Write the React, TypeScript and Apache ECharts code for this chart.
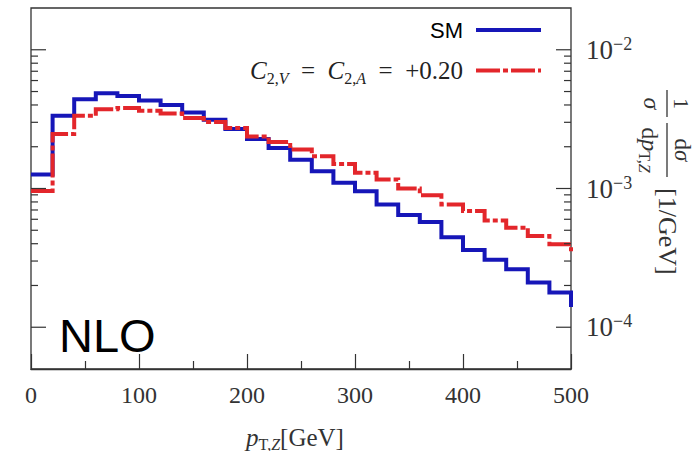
import React, { useEffect, useRef } from "react";
import * as echarts from "echarts";

// Lower edges of the 20 GeV p_T,Z bins (the 500 entry closes the last bin)
const binEdges = [
  0, 20, 40, 60, 80, 100, 120, 140, 160, 180, 200, 220, 240, 260, 280, 300,
  320, 340, 360, 380, 400, 420, 440, 460, 480, 500,
];

// Normalised distribution, Standard Model
const smValues = [
  1.26e-3, 3.34e-3, 4.4e-3, 4.86e-3, 4.65e-3, 4.3e-3, 4.0e-3, 3.53e-3, 3.13e-3,
  2.68e-3, 2.27e-3, 1.96e-3, 1.61e-3, 1.33e-3, 1.1e-3, 9.56e-4, 7.68e-4,
  6.43e-4, 5.73e-4, 4.45e-4, 3.61e-4, 3.06e-4, 2.62e-4, 2.1e-4, 1.78e-4,
  1.4e-4,
];

// Normalised distribution, C_{2,V} = C_{2,A} = +0.20
const c2Values = [
  9.6e-4, 2.47e-3, 3.34e-3, 3.73e-3, 3.8e-3, 3.63e-3, 3.47e-3, 3.22e-3,
  3.01e-3, 2.73e-3, 2.37e-3, 2.16e-3, 1.91e-3, 1.71e-3, 1.5e-3, 1.3e-3,
  1.16e-3, 1.0e-3, 8.95e-4, 7.68e-4, 6.87e-4, 5.89e-4, 5.22e-4, 4.55e-4,
  3.96e-4, 3.53e-4,
];

const seriesNames = ["SM", "C2"];
const xTicks = [0, 100, 200, 300, 400, 500];
const yMajorTicks = [1e-4, 1e-3, 1e-2];
const yMinorTicks = [
  2e-4, 3e-4, 4e-4, 5e-4, 6e-4, 7e-4, 8e-4, 9e-4,
  2e-3, 3e-3, 4e-3, 5e-3, 6e-3, 7e-3, 8e-3, 9e-3,
];

const SERIF = '"Liberation Serif", "DejaVu Serif", serif';
const SANS = '"Liberation Sans", Arial, sans-serif';
const INK = "#333";
const BLUE = "#1616b8";
const RED = "#e3262b";
const NONE = "rgba(0,0,0,0)";

export default function App() {
  const ref = useRef<HTMLDivElement>(null);

  useEffect(() => {
    if (!ref.current) return;
    const chart = echarts.init(ref.current, undefined, { renderer: "svg" });

    const toPoints = (vals: number[]) => binEdges.map((x, i) => [x, vals[i]]);
    const tickData = [
      ...yMajorTicks.map((v) => [0, v, 1]),
      ...yMinorTicks.map((v) => [0, v, 0]),
    ];

    const mathRich = {
      c: { fontFamily: SERIF, fontStyle: "italic", fontSize: 25, color: "#222", lineHeight: 32 },
      s: { fontFamily: SERIF, fontSize: 16, color: "#222", verticalAlign: "bottom", lineHeight: 16 },
      si: { fontFamily: SERIF, fontStyle: "italic", fontSize: 16, color: "#222", verticalAlign: "bottom", lineHeight: 16 },
      r: { fontFamily: SERIF, fontSize: 25, color: "#222", lineHeight: 32 },
      sm: { fontFamily: SANS, fontSize: 22, color: "#000", lineHeight: 26 },
    };

    chart.setOption({
      animation: false,
      grid: {
        left: 31,
        right: 124,
        top: 8,
        bottom: 82,
        show: true,
        borderColor: INK,
        borderWidth: 1.3,
        containLabel: false,
        outerBoundsMode: "none",
      },
      legend: {
        data: seriesNames,
        orient: "vertical",
        align: "right",
        right: 152,
        top: 19,
        padding: 0,
        itemGap: 17,
        itemWidth: 65,
        itemHeight: 14,
        selectedMode: false,
        itemStyle: { color: NONE, borderColor: NONE, borderWidth: 0 },
        lineStyle: { width: 4 },
        textStyle: { rich: mathRich, padding: [0, 8, 0, 0] },
        formatter: (name: string) =>
          name === "SM"
            ? "{sm|SM}"
            : "{c|C}{s|2,}{si|V}{r|\u2002=\u2002}{c|C}{s|2,}{si|A}{r|\u2002=\u2002+0.20}",
      },
      xAxis: {
        type: "value",
        min: xTicks[0],
        max: xTicks[xTicks.length - 1],
        interval: 100,
        axisLine: { show: true, lineStyle: { color: INK, width: 1.3 } },
        axisTick: { show: true, inside: true, length: 15, lineStyle: { color: INK, width: 1.2 } },
        minorTick: { show: true, splitNumber: 2, length: 8, lineStyle: { color: INK, width: 1.2 } },
        splitLine: { show: false },
        axisLabel: { fontFamily: SERIF, fontSize: 24, color: INK, margin: 14 },
        name: "{p|p}{sub|T,}{subi|Z}{r|[GeV]}",
        nameLocation: "middle",
        nameGap: 53,
        nameTextStyle: {
          padding: [0, 12, 0, 0],
          rich: {
            p: { fontFamily: SERIF, fontStyle: "italic", fontSize: 25, color: INK, lineHeight: 30 },
            sub: { fontFamily: SERIF, fontSize: 16, color: INK, verticalAlign: "bottom", lineHeight: 16 },
            subi: { fontFamily: SERIF, fontStyle: "italic", fontSize: 16, color: INK, verticalAlign: "bottom", lineHeight: 16 },
            r: { fontFamily: SERIF, fontSize: 25, color: INK, lineHeight: 30 },
          },
        },
      },
      yAxis: {
        type: "log",
        logBase: 10,
        min: 5e-5,
        max: 2e-2,
        position: "right",
        axisLine: { show: false },
        axisTick: { show: false },
        splitLine: { show: false },
        axisLabel: {
          margin: 15,
          formatter: (v: number) => {
            const e = Math.round(Math.log10(v));
            if (Math.abs(Math.log10(v) - e) > 1e-6) return "";
            return `{b|10}{s|\u2212${Math.abs(e)}}`;
          },
          rich: {
            b: { fontFamily: SERIF, fontSize: 27, color: INK, lineHeight: 30 },
            s: { fontFamily: SERIF, fontSize: 18, color: INK, verticalAlign: "top", lineHeight: 18 },
          },
        },
      },
      series: [
        {
          name: "SM",
          type: "line",
          step: "end",
          symbol: "none",
          clip: false,
          data: toPoints(smValues),
          lineStyle: { color: BLUE, width: 4, join: "miter", cap: "butt" },
          itemStyle: { color: BLUE },
          z: 2,
        },
        {
          name: "C2",
          type: "line",
          step: "end",
          symbol: "none",
          clip: false,
          data: toPoints(c2Values),
          lineStyle: { color: RED, width: 4, type: [24, 3, 5, 3], join: "miter", cap: "butt" },
          itemStyle: { color: RED },
          z: 3,
        },
        {
          // logarithmic tick marks on both vertical frame edges
          type: "custom",
          silent: true,
          data: tickData,
          encode: { x: 0, y: 1 },
          z: 4,
          renderItem: (params: any, api: any) => {
            const y = api.coord([0, api.value(1)])[1];
            const len = api.value(2) ? 15 : 7;
            const cs = params.coordSys;
            const left = cs.x;
            const right = cs.x + cs.width;
            const style = { stroke: INK, lineWidth: 1.2 };
            return {
              type: "group",
              children: [
                { type: "line", shape: { x1: left, y1: y, x2: left + len, y2: y }, style },
                { type: "line", shape: { x1: right - len, y1: y, x2: right, y2: y }, style },
              ],
            };
          },
        },
      ],
      graphic: [
        {
          type: "text",
          left: 59,
          top: 312,
          style: { text: "NLO", font: `47px ${SANS}`, fill: "#000" },
        },
        {
          // y-axis title, rotated to read downwards
          type: "group",
          x: 667,
          y: 88,
          rotation: -Math.PI / 2,
          children: [
            { type: "line", shape: { x1: 2, y1: 0, x2: 29, y2: 0 }, style: { stroke: INK, lineWidth: 1.3 } },
            {
              type: "text",
              x: 15.5,
              y: -3,
              style: { text: "1", font: `22px ${SERIF}`, fill: INK, align: "center", verticalAlign: "bottom" },
            },
            {
              type: "text",
              x: 15.5,
              y: 3,
              style: { text: "σ", font: `italic 24px ${SERIF}`, fill: INK, align: "center", verticalAlign: "top" },
            },
            { type: "line", shape: { x1: 35, y1: 0, x2: 89, y2: 0 }, style: { stroke: INK, lineWidth: 1.3 } },
            {
              type: "text",
              x: 62,
              y: -3,
              style: {
                text: "{r|d}{i|σ}",
                fill: INK,
                align: "center",
                verticalAlign: "bottom",
                rich: {
                  r: { fontFamily: SERIF, fontSize: 23, fill: INK, lineHeight: 24 },
                  i: { fontFamily: SERIF, fontStyle: "italic", fontSize: 23, fill: INK, lineHeight: 24 },
                },
              },
            },
            {
              type: "text",
              x: 62,
              y: 3,
              style: {
                text: "{r|d}{i|p}{s|T,}{si|Z}",
                fill: INK,
                align: "center",
                verticalAlign: "top",
                rich: {
                  r: { fontFamily: SERIF, fontSize: 24, fill: INK, lineHeight: 28 },
                  i: { fontFamily: SERIF, fontStyle: "italic", fontSize: 24, fill: INK, lineHeight: 28 },
                  s: { fontFamily: SERIF, fontSize: 16, fill: INK, verticalAlign: "bottom", lineHeight: 16 },
                  si: { fontFamily: SERIF, fontStyle: "italic", fontSize: 16, fill: INK, verticalAlign: "bottom", lineHeight: 16 },
                },
              },
            },
            {
              type: "text",
              x: 100,
              y: 0,
              style: { text: "[1/GeV]", font: `26px ${SERIF}`, fill: INK, align: "left", verticalAlign: "middle" },
            },
          ],
        },
      ],
    });

    return () => chart.dispose();
  }, []);

  return (
    <div
      ref={ref}
      style={{ position: "fixed", left: 0, top: 0, width: 695, height: 451, background: "#fff" }}
    />
  );
}
